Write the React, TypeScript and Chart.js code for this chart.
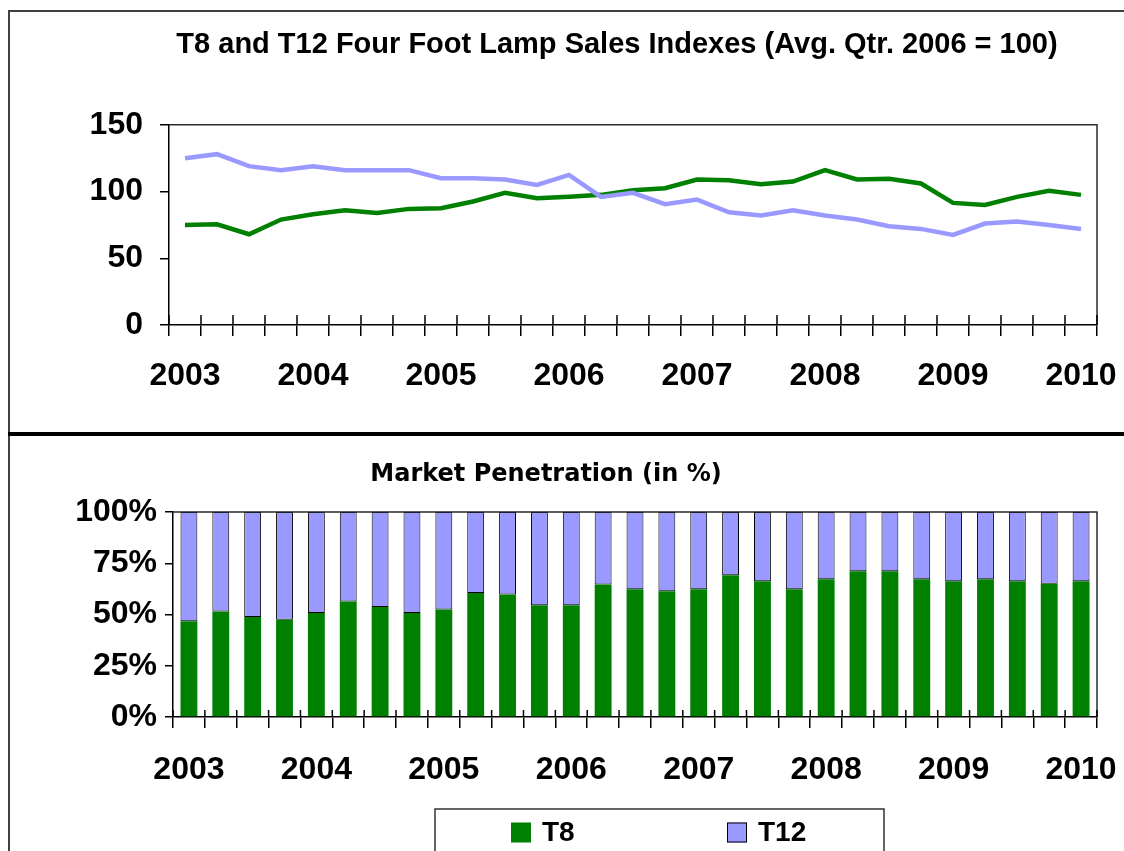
import React, { useEffect, useRef } from 'react';
import { Chart, registerables } from 'chart.js';

Chart.register(...registerables);

// ---------- data ----------
const quarters = [
  '2003 Q1', '2003 Q2', '2003 Q3', '2003 Q4',
  '2004 Q1', '2004 Q2', '2004 Q3', '2004 Q4',
  '2005 Q1', '2005 Q2', '2005 Q3', '2005 Q4',
  '2006 Q1', '2006 Q2', '2006 Q3', '2006 Q4',
  '2007 Q1', '2007 Q2', '2007 Q3', '2007 Q4',
  '2008 Q1', '2008 Q2', '2008 Q3', '2008 Q4',
  '2009 Q1', '2009 Q2', '2009 Q3', '2009 Q4',
  '2010 Q1',
];

const seriesNames = ['T8', 'T12'];

const t8Index = [
  75, 75.5, 68, 79, 83, 86, 84, 87, 87.5, 92.5, 99, 95, 96, 97.5,
  101, 102.5, 109, 108.5, 105.5, 107.5, 116, 109, 109.5, 106, 91.5, 90, 96, 100.5, 97.5,
];
const t12Index = [
  125, 128, 119, 116, 119, 116, 116, 116, 110, 110, 109, 105, 112.5, 96,
  99, 90.5, 94, 84.5, 82, 86, 82, 79, 74, 72, 67.5, 76, 77.5, 75, 72,
];

const t8Share = [
  46.7, 51.5, 48.8, 47.5, 50.7, 56.4, 53.7, 50.7, 52.5, 60.5, 59.7, 54.5, 54.5, 64.6,
  62.3, 61.3, 62.3, 69.1, 66.2, 62.3, 67.2, 71.1, 71.1, 67.2, 66.2, 67.2, 66.2, 65.0, 66.2,
];
const t12Share = [
  53.3, 48.5, 51.2, 52.5, 49.3, 43.6, 46.3, 49.3, 47.5, 39.5, 40.3, 45.5, 45.5, 35.4,
  37.7, 38.7, 37.7, 30.9, 33.8, 37.7, 32.8, 28.9, 28.9, 32.8, 33.8, 32.8, 33.8, 35.0, 33.8,
];

const indexTitle = 'T8 and T12 Four Foot Lamp Sales Indexes (Avg. Qtr. 2006 = 100)';
const shareTitle = 'Market Penetration (in %)';

// ---------- styling ----------
const GREEN = '#008000';
const LAVENDER = '#9999ff';
const SANS = '"Liberation Sans", Arial, sans-serif';

const yearLabel = (_v: any, i: number) =>
  quarters[i].endsWith('Q1') ? quarters[i].slice(0, 4) : '';

const frameTicks = (up: number) => ({
  id: 'frameTicks',
  afterDraw(chart: any) {
    const { ctx, chartArea: a, scales } = chart;
    const xs = scales.x;
    const n = chart.data.labels.length;
    const half = (xs.getPixelForValue(1) - xs.getPixelForValue(0)) / 2;
    ctx.save();
    ctx.strokeStyle = '#2a2a2a';
    ctx.lineWidth = 1.5;
    ctx.beginPath();
    ctx.moveTo(a.left, a.top);
    ctx.lineTo(a.right, a.top);
    ctx.lineTo(a.right, a.bottom);
    ctx.stroke();
    ctx.strokeStyle = '#000';
    ctx.beginPath();
    for (let i = 0; i <= n; i++) {
      const x = i < n ? xs.getPixelForValue(i) - half : xs.getPixelForValue(n - 1) + half;
      ctx.moveTo(x, a.bottom - up);
      ctx.lineTo(x, a.bottom);
    }
    ctx.stroke();
    ctx.restore();
  },
});

// legend box drawn inside the bottom canvas (canvas starts at page x = -65)
const LX = 65;
const boxLegend = {
  id: 'boxLegend',
  afterDraw(chart: any) {
    const ctx = chart.ctx;
    ctx.save();
    ctx.strokeStyle = '#333';
    ctx.lineWidth = 1.5;
    ctx.strokeRect(435 + LX, 373, 449, 80);
    const slots = [
      { sx: 511 + LX, tx: 542 + LX },
      { sx: 727 + LX, tx: 758 + LX },
    ];
    chart.data.datasets.forEach((ds: any, i: number) => {
      const s = slots[i];
      ctx.fillStyle = ds.backgroundColor;
      ctx.fillRect(s.sx, 386.5, 20, 20);
      if (ds.borderWidth) {
        ctx.strokeStyle = '#000';
        ctx.lineWidth = 1;
        ctx.strokeRect(s.sx + 0.5, 387, 19, 19);
      }
      ctx.fillStyle = '#000';
      ctx.font = `bold 28px ${SANS}`;
      ctx.textBaseline = 'middle';
      ctx.textAlign = 'left';
      ctx.fillText(ds.label, s.tx, 397);
    });
    ctx.restore();
  },
};

const spacerAxis = (w: number) => ({
  type: 'linear' as const,
  position: 'right' as const,
  display: true,
  afterFit: (s: any) => { s.width = w; },
  grid: { display: false, drawTicks: false },
  border: { display: false },
  ticks: { display: false },
});

export default function App() {
  const topRef = useRef<HTMLCanvasElement>(null);
  const botRef = useRef<HTMLCanvasElement>(null);

  useEffect(() => {
    const tickFont = { family: SANS, size: 32, weight: 'bold' as const };

    const top = new Chart(topRef.current!, {
      type: 'line',
      data: {
        labels: quarters,
        datasets: [
          {
            label: seriesNames[0],
            data: t8Index,
            borderColor: GREEN,
            backgroundColor: GREEN,
            borderWidth: 4.5,
            pointRadius: 0,
            tension: 0,
            order: 1,
          },
          {
            label: seriesNames[1],
            data: t12Index,
            borderColor: LAVENDER,
            backgroundColor: LAVENDER,
            borderWidth: 4.5,
            pointRadius: 0,
            tension: 0,
            order: 0,
          },
        ],
      },
      options: {
        responsive: false,
        animation: false,
        layout: { padding: 0 },
        plugins: {
          legend: { display: false },
          tooltip: { enabled: false },
          title: {
            display: true,
            text: indexTitle,
            color: '#000',
            font: { family: SANS, size: 29, weight: 'bold' },
            padding: { top: 15, bottom: 62 },
          },
        },
        scales: {
          x: {
            type: 'category',
            offset: true,
            afterFit: (s: any) => { s.height = 107; },
            grid: { offset: true, drawOnChartArea: false, drawTicks: true, tickLength: 11, color: '#000', lineWidth: 1.5 },
            border: { display: true, color: '#000', width: 1.5 },
            ticks: { autoSkip: false, maxRotation: 0, minRotation: 0, padding: 21, color: '#000', font: tickFont, callback: yearLabel },
          },
          y: {
            min: 0,
            max: 150,
            afterFit: (s: any) => { s.width = 169; },
            grid: { drawOnChartArea: false, drawTicks: true, tickLength: 9, color: '#000', lineWidth: 1.5 },
            border: { display: true, color: '#000', width: 1.5 },
            ticks: { stepSize: 50, padding: 17, color: '#000', font: tickFont },
          },
          spacer: spacerAxis(137),
        },
      },
      plugins: [frameTicks(10)],
    });

    const bot = new Chart(botRef.current!, {
      type: 'bar',
      data: {
        labels: quarters,
        datasets: [
          {
            label: seriesNames[0],
            data: t8Share,
            backgroundColor: GREEN,
            borderWidth: 0,
            barPercentage: 0.53,
            categoryPercentage: 1,
          },
          {
            label: seriesNames[1],
            data: t12Share,
            backgroundColor: LAVENDER,
            borderColor: '#000',
            borderWidth: 1,
            borderSkipped: false,
            barPercentage: 0.53,
            categoryPercentage: 1,
          },
        ],
      },
      options: {
        responsive: false,
        animation: false,
        layout: { padding: 0 },
        plugins: {
          legend: { display: false },
          tooltip: { enabled: false },
          title: {
            display: true,
            text: shareTitle,
            color: '#000',
            font: { family: '"DejaVu Sans", Verdana, sans-serif', size: 24, weight: 'bold' },
            padding: { top: 24.6, bottom: 22.6 },
          },
        },
        scales: {
          x: {
            type: 'category',
            stacked: true,
            offset: true,
            afterFit: (s: any) => { s.height = 134; },
            grid: { offset: true, drawOnChartArea: false, drawTicks: true, tickLength: 11, color: '#000', lineWidth: 1.5 },
            border: { display: true, color: '#000', width: 1.5 },
            ticks: { autoSkip: false, maxRotation: 0, minRotation: 0, padding: 23, color: '#000', font: tickFont, callback: yearLabel },
          },
          y: {
            stacked: true,
            min: 0,
            max: 100,
            afterFit: (s: any) => { s.width = 173 + LX; },
            grid: { drawOnChartArea: false, drawTicks: true, tickLength: 8, color: '#000', lineWidth: 1.5 },
            border: { display: true, color: '#000', width: 1.5 },
            ticks: { stepSize: 25, padding: 8, color: '#000', font: tickFont, callback: (v: any) => `${v}%` },
          },
          spacer: spacerAxis(60),
        },
      },
      plugins: [frameTicks(7), boxLegend],
    });

    return () => {
      top.destroy();
      bot.destroy();
    };
  }, []);

  return (
    <div style={{ position: 'fixed', left: 0, top: 0, width: 1124, height: 851, overflow: 'hidden', background: '#fff' }}>
      <div style={{ position: 'absolute', left: 8, top: 10, width: 1130, height: 860, borderTop: '2px solid #404040', borderLeft: '2px solid #404040', boxSizing: 'border-box' }} />
      <div style={{ position: 'absolute', left: 8, top: 432, width: 1120, height: 4, background: '#000' }} />
      <canvas ref={topRef} width={1234} height={419} style={{ position: 'absolute', left: 0, top: 13 }} />
      <canvas ref={botRef} width={1222} height={415} style={{ position: 'absolute', left: -LX, top: 436 }} />
    </div>
  );
}
